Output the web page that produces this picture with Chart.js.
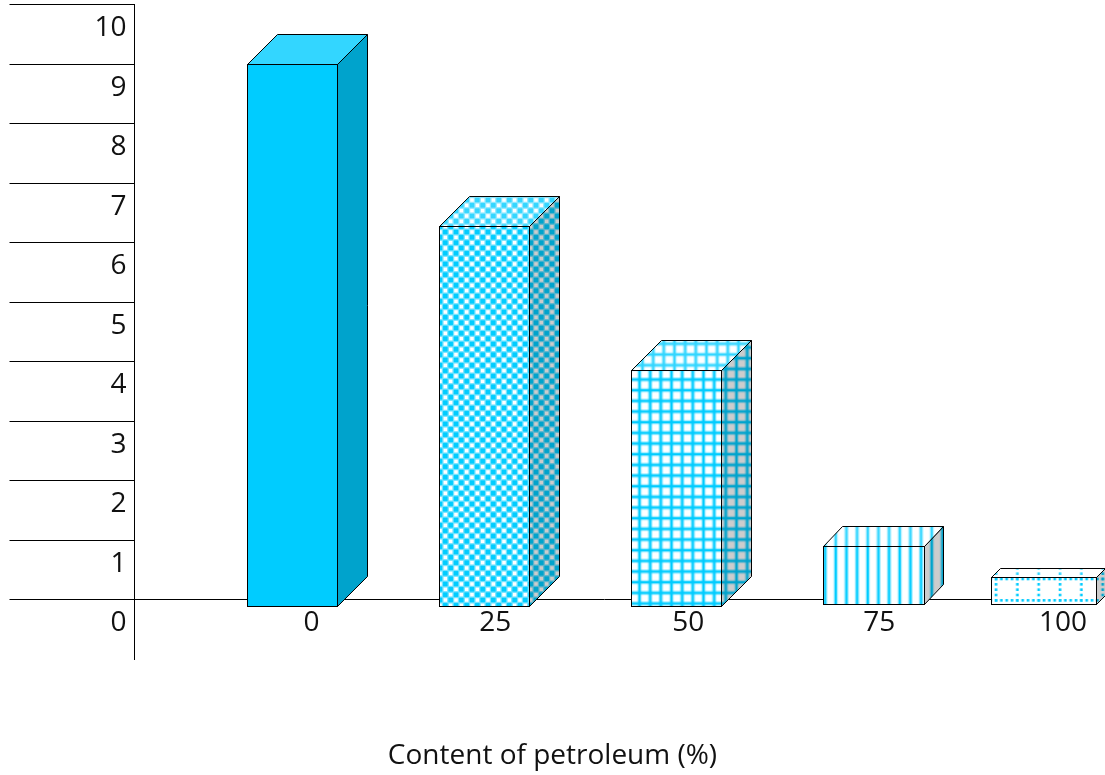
<!DOCTYPE html>
<html><head><meta charset="utf-8">
<style>html,body{margin:0;padding:0;background:#fff;overflow:hidden}canvas{display:block}</style>
<script src="https://cdn.jsdelivr.net/npm/chart.js@4"></script>
</head><body><canvas id="c" width="1105" height="775"></canvas>
<script>
const categories = ['0','25','50','75','100'];
const barTops = [9.0, 6.277, 3.857, 0.899, 0.378];
const barBases = [-0.126, -0.126, -0.126, -0.092, -0.092];
const yTicks = [0,1,2,3,4,5,6,7,8,9,10];
const xTitle = 'Content of petroleum (%)';

const FONT = '"Open Sans"';
const barNudge = [64.05, 68.15, 72.25, 81.85, 63.95];
const barWidths = [91, 91, 91, 102, 106];
const depthX = [30, 30, 30, 19, 9];
const depthY = [30, 30, 30, 20, 9];
const labelNudge = [83, 79, 84, 87, 83];
const P = 32/3;
const CELL = 16/3;
const BLUR = 0.4;

function tile(w, h, bg, draw){
  const raw = document.createElement('canvas'); raw.width = w; raw.height = h;
  const x = raw.getContext('2d'); x.fillStyle = bg; x.fillRect(0,0,w,h); draw(x);
  const big = document.createElement('canvas'); big.width = 3*w; big.height = 3*h;
  const b = big.getContext('2d');
  for(let i=0;i<3;i++)for(let j=0;j<3;j++) b.drawImage(raw,i*w,j*h);
  const out = document.createElement('canvas'); out.width = w; out.height = h;
  const o = out.getContext('2d'); o.filter = 'blur('+BLUR+'px)'; o.drawImage(big,-w,-h);
  return out;
}
function solid(fg,bg){ return fg; }
function checker(fg,bg){
  return tile(32,32,bg,x=>{
    x.globalAlpha = 0.55; x.fillStyle = fg; x.fillRect(0,0,32,32); x.globalAlpha = 1;
    for(let i=0;i<6;i++)for(let j=0;j<6;j++){
      if((i+j)%2===0){ x.fillStyle=fg; x.fillRect(i*CELL+0.4,j*CELL+0.4,CELL-0.8,CELL-0.8); }
      else { x.fillStyle=bg; x.fillRect(i*CELL+0.9,j*CELL+0.9,CELL-1.8,CELL-1.8); }
    }
  });
}
function lines(x, horizontal){
  const bands = [[4.4,0.4],[2,1]];
  bands.forEach(([w,a])=>{
    x.globalAlpha = a;
    for(let i=0;i<=3;i++){
      x.fillRect(i*P-w/2,0,w,32);
      if(horizontal) x.fillRect(0,i*P-w/2,32,w);
    }
  });
  x.globalAlpha = 1;
}
function grid(fg,bg){ return tile(32,32,bg,x=>{ x.fillStyle=fg; lines(x,true); }); }
function stripes(fg,bg){ return tile(32,32,bg,x=>{ x.fillStyle=fg; lines(x,false); }); }
function dots(fg,bg){
  return tile(64,64,bg,x=>{ x.fillStyle=fg;
    for(let i=0;i<=3;i++)for(let k=0;k<=12;k++){
      x.fillRect(k*CELL-1.3,i*64/3-1.3,2.6,2.6);
      x.fillRect(i*64/3-1.3,k*CELL-1.3,2.6,2.6);
    }
  });
}
const makers = [solid, checker, grid, stripes, dots];
const ctxMain = document.getElementById('c').getContext('2d');
const palettes = {front:['#00CCFF','#FFFFFF'], top:['#33D6FF','#FFFFFF'], side:['#00A3CC','#CCCCCC']};
const phases = {
  front:[[0,0],[0,0],[-0.5,6.2],[3.7,0],[14.67,3]],
  top:[[0,0],[0,0],[2.5,2.5],[3.7,0],[14.67,3]],
  side:[[0,0],[0,0],[0.5,6.2],[3.7,0],[14.67,3]]
};
function fillFor(i, face){
  const [fg,bg] = palettes[face];
  const t = makers[i](fg,bg);
  if (typeof t === 'string') return t;
  const p = ctxMain.createPattern(t,'repeat');
  const [px,py] = phases[face][i];
  p.setTransform(new DOMMatrix([1,0,0,1,px,py]));
  return p;
}
const frontFills = categories.map((_,i)=>fillFor(i,'front'));
const topFills = categories.map((_,i)=>fillFor(i,'top'));
const sideFills = categories.map((_,i)=>fillFor(i,'side'));

const box3d = {
  id:'box3d',
  afterDatasetsUpdate(chart){
    chart.getDatasetMeta(0).data.forEach((el,i)=>{ el.x += barNudge[i]; el.width = barWidths[i]; });
  },
  afterUpdate(chart){
    const items = chart.scales.x.getLabelItems(chart.chartArea);
    items.forEach((it,i)=>{ it.options.translation[0] += labelNudge[i]; });
  },
  beforeDatasetsDraw(chart){
    const ctx = chart.ctx;
    chart.getDatasetMeta(0).data.forEach((el,i)=>{
      const dx = depthX[i], dy = depthY[i], L = el.x-el.width/2+0.5, R = el.x+el.width/2-0.5, T = el.y+0.5, B = el.base-0.5;
      ctx.save(); ctx.lineWidth = 1; ctx.strokeStyle = '#000'; ctx.lineJoin='miter';
      ctx.beginPath(); ctx.moveTo(R,T); ctx.lineTo(R+dx,T-dy); ctx.lineTo(R+dx,B-dy); ctx.lineTo(R,B); ctx.closePath();
      ctx.fillStyle = sideFills[i]; ctx.fill(); ctx.stroke();
      ctx.beginPath(); ctx.moveTo(L,T); ctx.lineTo(L+dx,T-dy); ctx.lineTo(R+dx,T-dy); ctx.lineTo(R,T); ctx.closePath();
      ctx.fillStyle = topFills[i]; ctx.fill(); ctx.stroke();
      ctx.restore();
    });
  }
};

const chart = new Chart(ctxMain,{
  type:'bar',
  data:{labels:categories,datasets:[{
    data:barTops.map((v,i)=>[barBases[i],v]),
    backgroundColor:frontFills, borderColor:'#000', borderWidth:1, borderSkipped:false, clip:false
  }]},
  plugins:[box3d],
  options:{
    responsive:false, animation:false,
    events:[],
    layout:{padding:{top:4.5,right:0,left:0,bottom:0}},
    plugins:{legend:{display:false},tooltip:{enabled:false},
      title:{display:true,position:'bottom',text:xTitle,color:'#111',font:{family:FONT,size:28,weight:'normal'},padding:{top:0,bottom:2.5}}},
    scales:{
      x:{
        type:'category', position:'bottom',
        afterFit(s){ s.height = 79.9; },
        grid:{display:false}, border:{display:false},
        ticks:{color:'#111',font:{family:FONT,size:28},mirror:true,padding:19,maxRotation:0,autoSkip:false}
      },
      y:{
        type:'linear', min:-1, max:10,
        afterFit(s){ s.width = 134.5; },
        afterBuildTicks(s){ s.ticks = yTicks.map(v=>({value:v})); },
        border:{display:true,color:'#000',width:1},
        grid:{
          tickLength:125, tickColor:'#000', tickWidth:1,
          color:c=>(c.tick && c.tick.value===0)?'#000':'rgba(0,0,0,0)', lineWidth:1
        },
        ticks:{color:'#111',font:{family:FONT,size:28},padding:-117,labelOffset:24,autoSkip:false,callback:v=>String(v)}
      },
      spacer:{
        position:'right', display:true, afterFit(s){ s.width = 31; },
        grid:{display:false}, border:{display:false}, ticks:{display:false}
      }
    }
  }
});
</script></body></html>
